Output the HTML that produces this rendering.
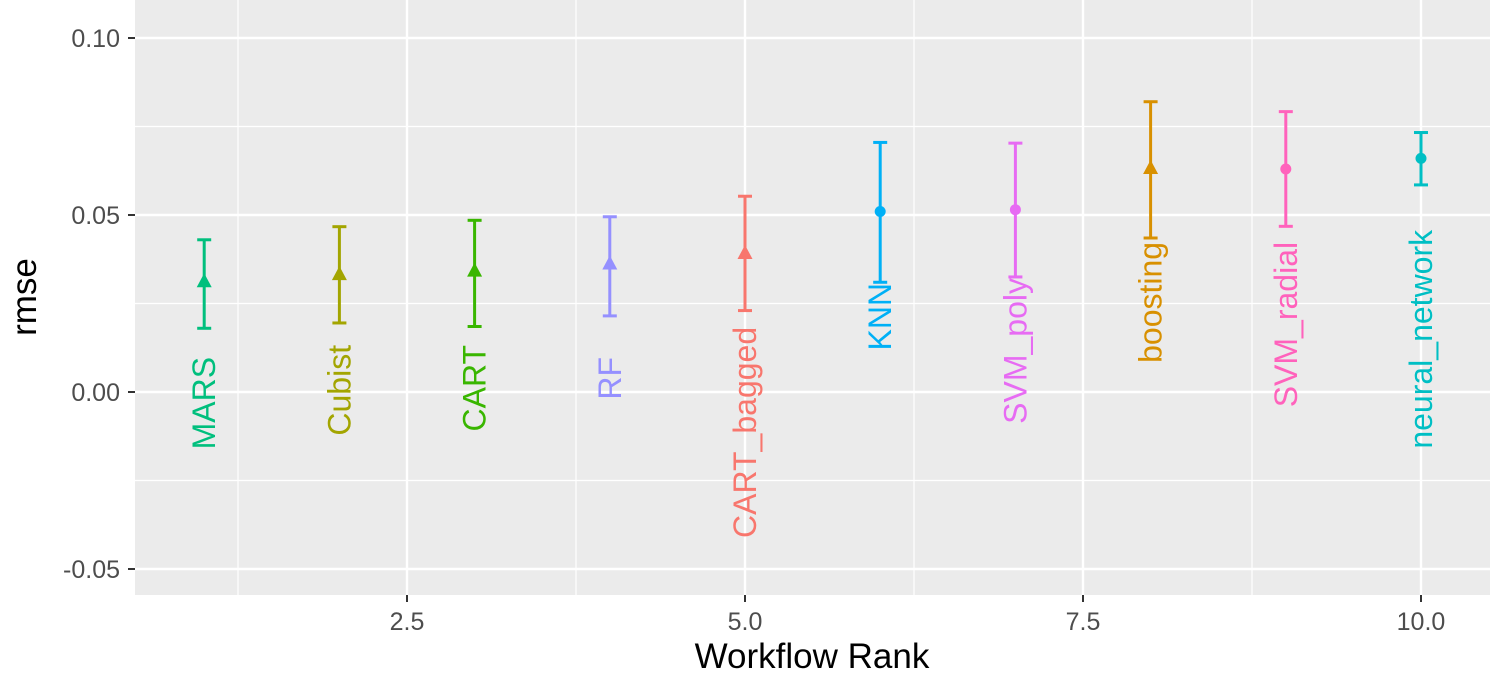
<!DOCTYPE html>
<html><head><meta charset="utf-8"><style>
body{margin:0;background:#fff;}
svg{display:block;font-family:"Liberation Sans",sans-serif;}
</style></head><body>
<svg id="chart" width="1506" height="680">
<rect x="135" y="0" width="1355" height="595" fill="#EBEBEB"/>
<g id="grid"></g><g id="marks"></g><g id="axes"></g>
<text x="812" y="668" font-size="35" text-anchor="middle" fill="#000">Workflow Rank</text>
<text transform="translate(36,297) rotate(-90)" font-size="35" text-anchor="middle" fill="#000">rmse</text>
</svg>
<script>
const models=["MARS","Cubist","CART","RF","CART_bagged","KNN","SVM_poly","boosting","SVM_radial","neural_network"];
const ranks=[1,2,3,4,5,6,7,8,9,10];
const means=[0.031,0.033,0.034,0.036,0.039,0.051,0.0515,0.063,0.063,0.066];
const lowers=[0.018,0.0195,0.0185,0.0215,0.023,0.031,0.0325,0.0435,0.0468,0.0585];
const uppers=[0.043,0.0467,0.0485,0.0495,0.0553,0.0705,0.0703,0.082,0.0792,0.0733];
const labelY=[0.0099,0.0133,0.0133,0.0099,0.0184,0.0308,0.0322,0.0424,0.0424,0.0458];
const shapes=["tri","tri","tri","tri","tri","circle","circle","tri","circle","circle"];
const colors=["#00BF7D","#A3A500","#39B600","#9590FF","#F8766D","#00B0F6","#E76BF3","#D89000","#FF62BC","#00BFC4"];
const xTicks=[2.5,5.0,7.5,10.0];
const xTickLabels=["2.5","5.0","7.5","10.0"];
const yTicks=[-0.05,0,0.05,0.10];
const yTickLabels=["-0.05","0.00","0.05","0.10"];
const xMinor=[1.25,3.75,6.25,8.75];
const yMinor=[-0.025,0.025,0.075];

const X=v=>204.2+(v-1)*135.2;
const Y=v=>392-v*3540;
const NS="http://www.w3.org/2000/svg";
function mk(parent,tag,attrs){const e=document.createElementNS(NS,tag);for(const k in attrs)e.setAttribute(k,attrs[k]);parent.appendChild(e);return e;}
const grid=document.getElementById('grid'),marks=document.getElementById('marks'),axes=document.getElementById('axes');
xMinor.forEach(v=>{const l=mk(grid,'line',{x1:X(v),x2:X(v),y1:0,y2:595,stroke:'#fff','stroke-width':1.2});

});
yMinor.forEach(v=>{const l=mk(grid,'line',{x1:135,x2:1490,y1:Y(v),y2:Y(v),stroke:'#fff','stroke-width':1.2});

});
xTicks.forEach((v,i)=>{const l=mk(grid,'line',{x1:X(v),x2:X(v),y1:0,y2:595,stroke:'#fff','stroke-width':2.4});


const t=mk(axes,'line',{x1:X(v),x2:X(v),y1:595,y2:602,stroke:'#333','stroke-width':2});


const tx=mk(axes,'text',{x:X(v),y:630,'font-size':25,fill:'#4D4D4D','text-anchor':'middle'});tx.textContent=xTickLabels[i];

});
yTicks.forEach((v,i)=>{const l=mk(grid,'line',{x1:135,x2:1490,y1:Y(v),y2:Y(v),stroke:'#fff','stroke-width':2.4});


const t=mk(axes,'line',{x1:128,x2:135,y1:Y(v),y2:Y(v),stroke:'#333','stroke-width':2});


const tx=mk(axes,'text',{x:120,y:Y(v)+9,'font-size':25,fill:'#4D4D4D','text-anchor':'end'});tx.textContent=yTickLabels[i];

});
ranks.forEach((r,i)=>{const g=mk(marks,'g',{stroke:colors[i],fill:colors[i],'stroke-width':3});


const x=X(r),yl=Y(lowers[i]),yu=Y(uppers[i]),ym=Y(means[i]);
mk(g,'line',{x1:x,x2:x,y1:yu,y2:yl});
mk(g,'line',{x1:x-7,x2:x+7,y1:yu,y2:yu});
mk(g,'line',{x1:x-7,x2:x+7,y1:yl,y2:yl});
let p;
if(shapes[i]==='tri'){p=mk(marks,'polygon',{points:`${x},${ym-9} ${x-7.5},${ym+5} ${x+7.5},${ym+5}`,fill:colors[i]});}
else{p=mk(marks,'circle',{cx:x,cy:ym,r:5.5,fill:colors[i]});}


const t=mk(marks,'text',{transform:`translate(${x+11},${Y(labelY[i])}) rotate(-90)`,'font-size':32,fill:colors[i],'text-anchor':'end'});
t.textContent=models[i];

});
</script>
</body></html>
